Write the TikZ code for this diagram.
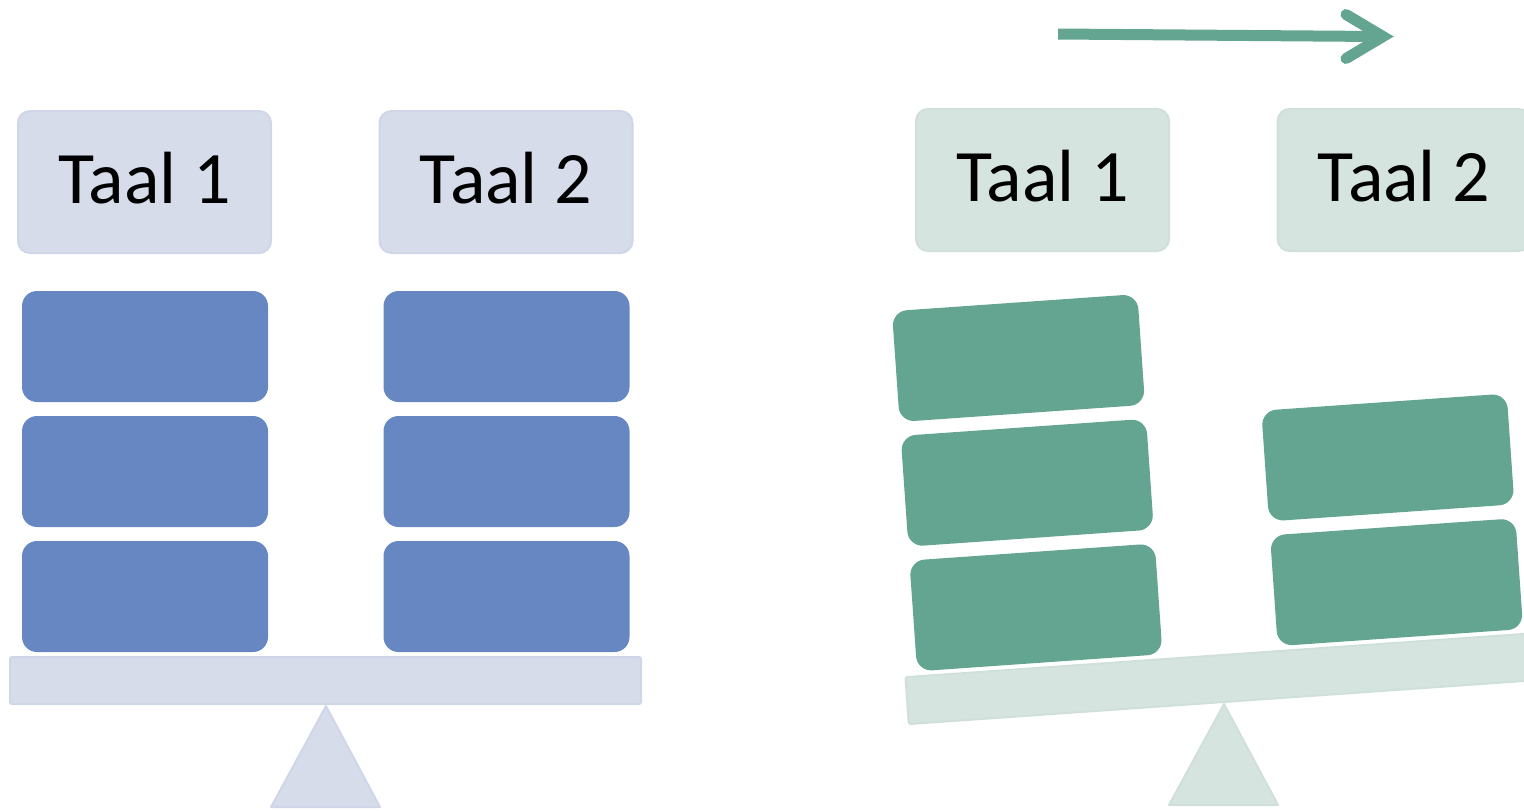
\documentclass[tikz,border=0pt]{standalone}
\usepackage{fontspec}
\setmainfont{Carlito}
\definecolor{blueblk}{HTML}{6787C3}
\definecolor{bluelt}{HTML}{D6DCEA}
\definecolor{bluelte}{HTML}{CFD6E7}
\definecolor{greenblk}{HTML}{63A591}
\definecolor{greenlt}{HTML}{D6E4DF}
\definecolor{greenlte}{HTML}{CFE0DA}
\begin{document}
\begin{tikzpicture}[x=0.5pt,y=-0.5pt,
  label/.style={rectangle, rounded corners=6pt, line width=1pt, minimum width=126.5pt, minimum height=71pt, inner sep=0pt, text depth=4.5pt, font=\fontsize{37}{40}\selectfont, text=black},
  bluelabel/.style={label, fill=bluelt, draw=bluelte},
  greenlabel/.style={label, fill=greenlt, draw=greenlte},
  blk/.style={rectangle, rounded corners=7.5pt, minimum width=123pt, minimum height=55.5pt, inner sep=0pt, draw=none},
  blueblock/.style={blk, fill=blueblk},
  greenblock/.style={blk, fill=greenblk},
  beam/.style={rectangle, minimum width=315.5pt, minimum height=23.5pt, inner sep=0pt, line width=1pt, rounded corners=1pt},
  fulcrum/.style={line width=1pt, line join=round}
]
\useasboundingbox (0,0) rectangle (1524,810);
\clip (0,0) rectangle (1524,810);

% ---------- left panel ----------
\node[bluelabel] (l1) at (144.5,182) {Taal 1};
\node[bluelabel] (l2) at (506,182) {Taal 2};
\node[blueblock] (b11) at (145,346.5) {};
\node[blueblock] (b12) at (145,471.5) {};
\node[blueblock] (b13) at (145,596.5) {};
\node[blueblock] (b21) at (506.5,346.5) {};
\node[blueblock] (b22) at (506.5,471.5) {};
\node[blueblock] (b23) at (506.5,596.5) {};
\node[beam, fill=bluelt, draw=bluelte] (lbeam) at (325.5,680.5) {};
\draw[fulcrum, fill=bluelt, draw=bluelte] (326,706) -- (380,807) -- (271,807) -- cycle;

% ---------- right panel ----------
\node[greenlabel] (r1) at (1042.5,180) {Taal 1};
\node[greenlabel] (r2) at (1404,180) {Taal 2};
\draw[fulcrum, fill=greenlt, draw=greenlte] (1224,704) -- (1278,805) -- (1169,805) -- cycle;
\begin{scope}[rotate around={4:(1224,702)}, transform shape]
  \node[beam, fill=greenlt, draw=greenlte] (rbeam) at (1223.5,678.5) {};
  \node[greenblock] (g11) at (1043,344.5) {};
  \node[greenblock] (g12) at (1043,469.5) {};
  \node[greenblock] (g13) at (1043,594.5) {};
  \node[greenblock] (g22) at (1404.5,469.5) {};
  \node[greenblock] (g23) at (1404.5,594.5) {};
\end{scope}

% arrow
\coordinate (aS) at (1058,34);
\coordinate (aE) at (1378,36.5);
\coordinate (hT) at (1346,14.5);
\coordinate (hP) at (1383,36.5);
\coordinate (hB) at (1346,58.5);
\draw[greenblk, line width=5.5pt] (aS) -- (aE);
\draw[greenblk, line width=5.5pt, line cap=round, line join=miter] (hT) -- (hP) -- (hB);
\end{tikzpicture}
\end{document}
